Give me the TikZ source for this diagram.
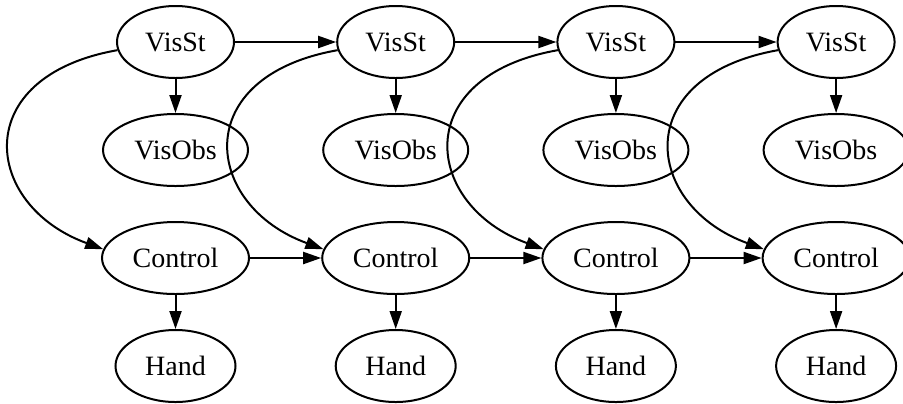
\documentclass[tikz,border=0pt]{standalone}
\usepackage{fontspec}
\setmainfont{Liberation Serif}
\usetikzlibrary{arrows.meta,shapes.geometric}

\begin{document}
\begin{tikzpicture}[x=0.5pt, y=0.5pt,
  var/.style={draw, ellipse, line width=1pt, inner sep=0pt,
    minimum height=36pt, font=\fontsize{14}{16}\selectfont},
  link/.style={-{Triangle[length=9pt,width=6pt]}, line width=1pt}]

% ── Layout (pixel units) ─────────────────────────────────────────────
\def\colsep{220.2}   % distance between time slices
\def\xfirst{175.5}   % centre of the first slice
\def\ySt{-42}
\def\yObs{-150}
\def\yCtl{-258}
\def\yHand{-366}

\useasboundingbox (0,0) rectangle (903,-403);

% ── Nodes of each time slice ─────────────────────────────────────────
\foreach \i in {1,...,4} {
  \pgfmathsetmacro{\xpos}{\xfirst + (\i-1)*\colsep}
  \node[var, minimum width=58.5pt] (st\i)   at (\xpos, \ySt)   {VisSt};
  \node[var, minimum width=72.5pt] (obs\i)  at (\xpos, \yObs)  {VisObs};
  \node[var, minimum width=73.5pt] (ctl\i)  at (\xpos, \yCtl)  {Control};
  \node[var, minimum width=60pt]   (hand\i) at (\xpos, \yHand) {Hand};
}

% ── Edges inside a slice ─────────────────────────────────────────────
\foreach \i in {1,...,4} {
  \draw[link] (st\i) -- (obs\i);
  \draw[link] (ctl\i) -- (hand\i);
  % long bend from state to control
  \draw[link] (st\i.188) to[out=190, in=160, out distance=76pt, in distance=64pt] (ctl\i.173);
}

% ── Edges between slices ─────────────────────────────────────────────
\foreach \i/\j in {1/2, 2/3, 3/4} {
  \draw[link] (st\i) -- (st\j);
  \draw[link] (ctl\i) -- (ctl\j);
}

\end{tikzpicture}
\end{document}
